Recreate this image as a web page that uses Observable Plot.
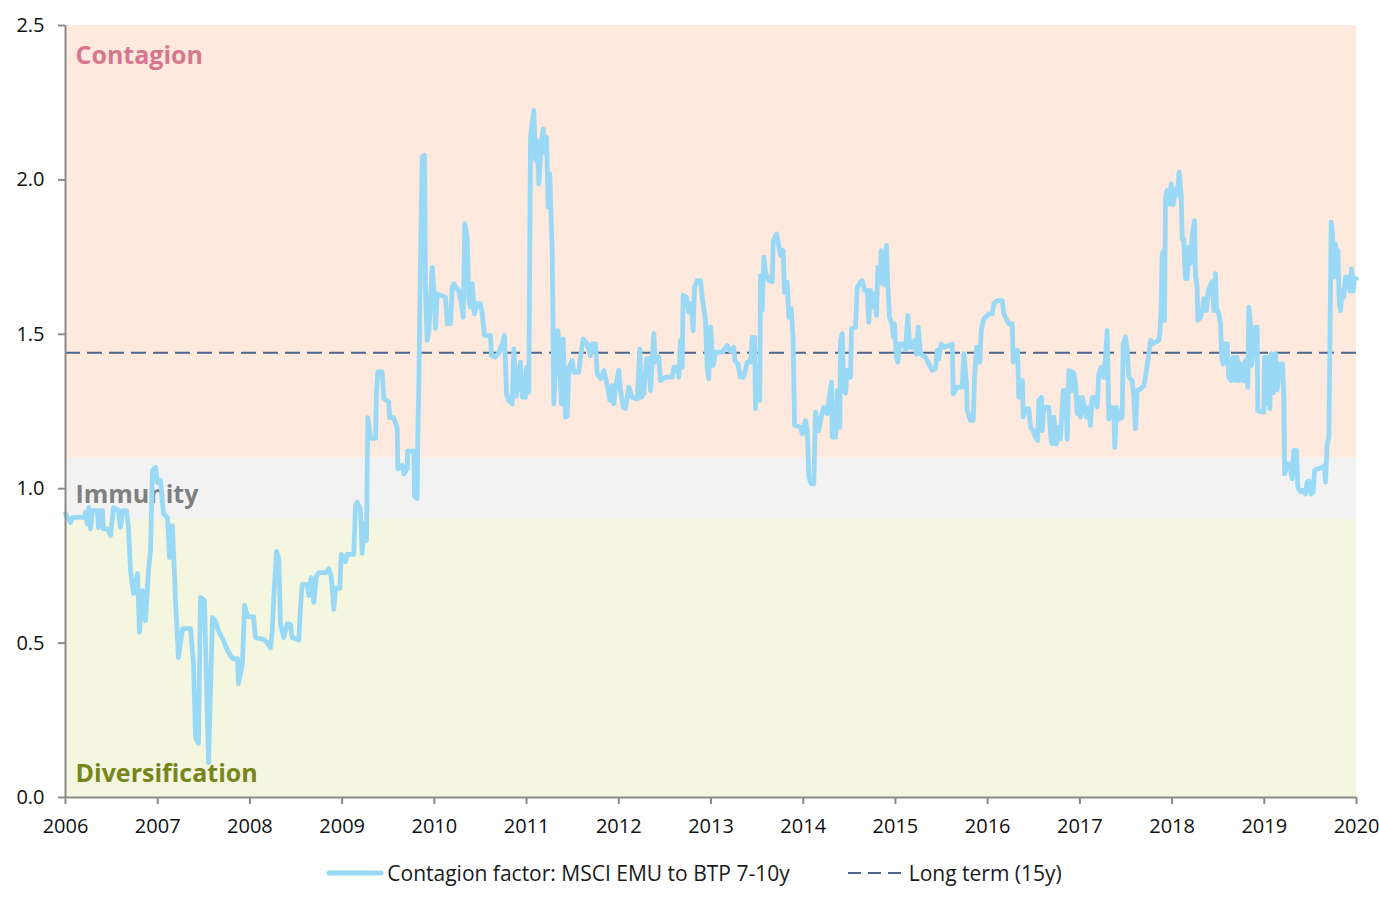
<!DOCTYPE html>
<html>
<head>
<meta charset="utf-8">
<script src="https://cdn.jsdelivr.net/npm/d3@7"></script>
<script src="https://cdn.jsdelivr.net/npm/@observablehq/plot@0.6"></script>
<style>
  html, body { margin: 0; padding: 0; background: #fff; }
  body { width: 1379px; height: 907px; font-family: "Open Sans", Lato, sans-serif; }
  #chart { position: absolute; left: 0; top: 0; }
  #legend { position: absolute; left: 0; top: 859px; width: 1379px; display: flex; justify-content: center; align-items: center; gap: 58px; font-family: "Open Sans", sans-serif; font-size: 21px; color: #1a1a1a; padding-left: 9px; box-sizing: border-box; }
  .item { display: flex; align-items: center; gap: 3px; }
</style>
</head>
<body>
<div id="chart"></div>
<div id="legend"></div>
<script>
// ---- data (decimal year, contagion factor) ----
const years = [
2006.000,2006.054,2006.076,2006.206,2006.217,2006.235,2006.253,2006.271,2006.293,2006.347,
2006.358,2006.380,2006.401,2006.412,2006.455,2006.488,2006.521,2006.575,2006.596,2006.618,
2006.661,2006.683,2006.705,2006.737,2006.781,2006.802,2006.835,2006.868,2006.900,2006.922,
2006.943,2006.976,2006.998,2007.030,2007.063,2007.106,2007.128,2007.160,2007.193,2007.225,
2007.269,2007.356,2007.388,2007.410,2007.442,2007.464,2007.507,2007.551,2007.594,2007.627,
2007.659,2007.713,2007.757,2007.811,2007.865,2007.876,2007.919,2007.941,2007.974,2008.039,
2008.060,2008.150,2008.187,2008.223,2008.241,2008.259,2008.288,2008.313,2008.332,2008.367,
2008.404,2008.440,2008.458,2008.530,2008.548,2008.567,2008.621,2008.638,2008.664,2008.693,
2008.722,2008.747,2008.820,2008.855,2008.881,2008.910,2008.928,2008.975,2008.990,2009.036,
2009.055,2009.126,2009.145,2009.163,2009.199,2009.217,2009.242,2009.264,2009.278,2009.307,
2009.362,2009.373,2009.387,2009.434,2009.452,2009.506,2009.514,2009.560,2009.597,2009.604,
2009.651,2009.669,2009.706,2009.709,2009.777,2009.785,2009.814,2009.820,2009.831,2009.850,
2009.868,2009.893,2009.904,2009.922,2009.940,2009.977,2009.994,2010.012,2010.031,2010.121,
2010.139,2010.175,2010.194,2010.211,2010.265,2010.291,2010.313,2010.330,2010.356,2010.374,
2010.392,2010.410,2010.435,2010.465,2010.500,2010.519,2010.544,2010.609,2010.620,2010.663,
2010.699,2010.736,2010.761,2010.782,2010.807,2010.844,2010.862,2010.888,2010.934,2010.953,
2010.988,2010.999,2011.024,2011.043,2011.078,2011.097,2011.115,2011.133,2011.159,2011.180,
2011.194,2011.216,2011.235,2011.252,2011.278,2011.295,2011.314,2011.339,2011.360,2011.376,
2011.397,2011.422,2011.441,2011.458,2011.495,2011.512,2011.566,2011.585,2011.614,2011.657,
2011.693,2011.712,2011.747,2011.766,2011.802,2011.838,2011.875,2011.903,2011.929,2011.946,
2011.975,2012.000,2012.019,2012.048,2012.073,2012.109,2012.145,2012.200,2012.228,2012.243,
2012.271,2012.301,2012.333,2012.344,2012.380,2012.398,2012.434,2012.452,2012.507,2012.579,
2012.597,2012.637,2012.651,2012.669,2012.688,2012.698,2012.734,2012.759,2012.785,2012.807,
2012.821,2012.850,2012.886,2012.905,2012.940,2012.959,2012.976,2012.995,2013.024,2013.049,
2013.122,2013.176,2013.212,2013.248,2013.258,2013.291,2013.320,2013.356,2013.393,2013.429,
2013.447,2013.472,2013.483,2013.501,2013.529,2013.537,2013.555,2013.573,2013.591,2013.627,
2013.664,2013.675,2013.710,2013.735,2013.754,2013.783,2013.797,2013.826,2013.844,2013.870,
2013.891,2013.906,2013.971,2013.989,2014.025,2014.043,2014.061,2014.087,2014.115,2014.133,
2014.169,2014.195,2014.223,2014.260,2014.288,2014.307,2014.315,2014.350,2014.369,2014.397,
2014.404,2014.423,2014.440,2014.459,2014.477,2014.513,2014.524,2014.567,2014.585,2014.621,
2014.640,2014.665,2014.694,2014.711,2014.730,2014.748,2014.773,2014.795,2014.809,2014.830,
2014.846,2014.867,2014.882,2014.903,2014.917,2014.936,2014.965,2014.976,2014.990,2015.011,
2015.026,2015.047,2015.091,2015.109,2015.134,2015.156,2015.185,2015.207,2015.228,2015.247,
2015.272,2015.326,2015.362,2015.399,2015.435,2015.453,2015.470,2015.496,2015.532,2015.616,
2015.626,2015.670,2015.724,2015.742,2015.771,2015.778,2015.814,2015.843,2015.858,2015.879,
2015.904,2015.915,2015.930,2015.958,2016.013,2016.050,2016.067,2016.104,2016.158,2016.175,
2016.229,2016.266,2016.277,2016.302,2016.324,2016.338,2016.364,2016.378,2016.386,2016.411,
2016.447,2016.465,2016.494,2016.519,2016.544,2016.555,2016.584,2016.592,2016.609,2016.663,
2016.689,2016.700,2016.718,2016.747,2016.772,2016.790,2016.819,2016.844,2016.863,2016.880,
2016.906,2016.917,2016.934,2016.953,2016.971,2016.989,2017.007,2017.026,2017.050,2017.072,
2017.094,2017.115,2017.134,2017.170,2017.188,2017.205,2017.231,2017.260,2017.278,2017.296,
2017.314,2017.340,2017.368,2017.379,2017.397,2017.433,2017.459,2017.470,2017.495,2017.513,
2017.531,2017.568,2017.585,2017.603,2017.622,2017.658,2017.694,2017.723,2017.748,2017.766,
2017.796,2017.821,2017.856,2017.867,2017.882,2017.893,2017.911,2017.918,2017.929,2017.947,
2017.976,2017.991,2018.012,2018.037,2018.056,2018.077,2018.099,2018.110,2018.127,2018.136,
2018.146,2018.164,2018.182,2018.200,2018.218,2018.243,2018.254,2018.272,2018.279,2018.308,
2018.327,2018.344,2018.373,2018.392,2018.417,2018.435,2018.453,2018.471,2018.482,2018.507,
2018.526,2018.537,2018.555,2018.569,2018.598,2018.615,2018.641,2018.663,2018.688,2018.706,
2018.724,2018.742,2018.771,2018.796,2018.821,2018.832,2018.850,2018.861,2018.880,2018.905,
2018.923,2018.929,2018.995,2019.002,2019.024,2019.045,2019.060,2019.075,2019.097,2019.122,
2019.140,2019.169,2019.198,2019.212,2019.220,2019.249,2019.274,2019.303,2019.320,2019.349,
2019.364,2019.393,2019.422,2019.447,2019.466,2019.483,2019.509,2019.531,2019.545,2019.574,
2019.628,2019.653,2019.664,2019.682,2019.700,2019.711,2019.726,2019.740,2019.754,2019.773,
2019.784,2019.798,2019.813,2019.827,2019.845,2019.863,2019.881,2019.917,2019.928,2019.946,
2019.964,2019.978,2020.000
];
const values = [
0.919,0.89,0.907,0.907,0.924,0.887,0.939,0.87,0.929,0.929,
0.873,0.929,0.929,0.87,0.87,0.848,0.939,0.929,0.875,0.929,
0.929,0.875,0.735,0.66,0.725,0.535,0.67,0.573,0.735,0.80,
1.059,1.069,1.02,1.027,0.919,0.907,0.777,0.88,0.638,0.453,
0.547,0.547,0.434,0.194,0.175,0.648,0.638,0.113,0.583,0.57,
0.54,0.508,0.476,0.45,0.45,0.369,0.434,0.622,0.586,0.586,
0.518,0.512,0.502,0.484,0.535,0.649,0.797,0.775,0.558,0.518,
0.563,0.56,0.518,0.51,0.614,0.69,0.69,0.654,0.712,0.632,
0.717,0.728,0.728,0.741,0.717,0.609,0.677,0.677,0.787,0.764,
0.787,0.787,0.946,0.956,0.934,0.791,0.888,0.832,1.23,1.163,
1.163,1.321,1.378,1.378,1.292,1.281,1.23,1.23,1.196,1.065,
1.076,1.048,1.065,1.122,1.122,0.975,0.968,1.163,1.32,1.753,
2.074,2.08,1.642,1.48,1.512,1.717,1.642,1.519,1.631,1.62,
1.535,1.535,1.653,1.664,1.64,1.604,1.555,1.858,1.814,1.609,
1.588,1.664,1.566,1.599,1.599,1.566,1.496,1.496,1.431,1.426,
1.44,1.469,1.496,1.307,1.286,1.275,1.453,1.30,1.41,1.297,
1.296,1.393,1.312,2.138,2.225,2.063,2.128,1.987,2.117,2.165,
2.09,2.138,1.912,2.02,1.761,1.275,1.393,1.512,1.415,1.275,
1.485,1.232,1.235,1.393,1.415,1.377,1.377,1.426,1.485,1.469,
1.431,1.469,1.469,1.372,1.356,1.383,1.334,1.286,1.334,1.275,
1.345,1.383,1.318,1.264,1.26,1.329,1.296,1.29,1.453,1.296,
1.307,1.421,1.421,1.318,1.502,1.41,1.426,1.35,1.361,1.361,
1.393,1.393,1.361,1.48,1.393,1.626,1.62,1.572,1.60,1.512,
1.653,1.674,1.674,1.62,1.545,1.393,1.356,1.523,1.399,1.442,
1.442,1.464,1.445,1.458,1.415,1.404,1.361,1.361,1.41,1.41,
1.491,1.49,1.259,1.393,1.286,1.69,1.577,1.75,1.701,1.674,
1.67,1.803,1.825,1.788,1.755,1.771,1.636,1.669,1.555,1.583,
1.48,1.205,1.199,1.178,1.221,1.19,1.037,1.016,1.016,1.248,
1.188,1.232,1.264,1.243,1.307,1.345,1.167,1.167,1.318,1.199,
1.48,1.502,1.318,1.31,1.383,1.361,1.518,1.523,1.653,1.669,
1.674,1.642,1.642,1.539,1.642,1.588,1.63,1.561,1.717,1.664,
1.771,1.70,1.66,1.788,1.66,1.555,1.534,1.491,1.534,1.426,
1.41,1.469,1.469,1.45,1.561,1.458,1.458,1.48,1.435,1.523,
1.437,1.426,1.404,1.383,1.39,1.448,1.42,1.469,1.458,1.469,
1.307,1.329,1.329,1.437,1.34,1.253,1.221,1.221,1.361,1.458,
1.458,1.41,1.512,1.55,1.566,1.566,1.599,1.609,1.609,1.566,
1.534,1.534,1.41,1.448,1.448,1.296,1.35,1.35,1.232,1.259,
1.259,1.199,1.188,1.167,1.156,1.286,1.296,1.188,1.264,1.264,
1.156,1.145,1.232,1.145,1.199,1.161,1.318,1.318,1.16,1.383,
1.38,1.318,1.375,1.34,1.243,1.296,1.232,1.296,1.264,1.232,
1.264,1.205,1.296,1.296,1.264,1.372,1.393,1.36,1.426,1.512,
1.226,1.264,1.26,1.134,1.264,1.226,1.232,1.469,1.491,1.45,
1.361,1.35,1.296,1.194,1.318,1.323,1.334,1.383,1.437,1.48,
1.47,1.475,1.48,1.502,1.588,1.761,1.77,1.545,1.944,1.966,
1.922,1.987,1.92,1.971,1.95,2.025,1.95,1.809,1.809,1.728,
1.68,1.68,1.782,1.73,1.82,1.868,1.69,1.653,1.545,1.555,
1.577,1.615,1.577,1.642,1.658,1.67,1.577,1.696,1.582,1.566,
1.534,1.426,1.404,1.469,1.469,1.361,1.35,1.426,1.35,1.426,
1.35,1.404,1.35,1.415,1.329,1.588,1.534,1.399,1.447,1.523,
1.523,1.253,1.248,1.426,1.275,1.426,1.26,1.437,1.31,1.437,
1.32,1.404,1.404,1.296,1.048,1.08,1.08,1.032,1.124,1.124,
1.005,0.99,0.995,0.983,1.021,1.025,0.983,0.99,1.059,1.064,
1.069,1.075,1.021,1.145,1.167,1.448,1.863,1.825,1.685,1.793,
1.72,1.771,1.599,1.577,1.642,1.62,1.685,1.685,1.64,1.712,
1.64,1.68,1.68
];
const longTerm = [1.44];

const bandNames = ["Diversification", "Immunity", "Contagion"];
const bandLow = [0, 0.9, 1.1];
const bandHigh = [0.9, 1.1, 2.5];
const bandFill = ["#f5f6e0", "#f2f2f2", "#fde9dd"];
const labelColor = ["#76861c", "#7f7f7f", "#d9768f"];

const xTicks = d3.range(2006, 2021);
const yTicks = [0, 0.5, 1.0, 1.5, 2.0, 2.5];

const seriesName = "Contagion factor: MSCI EMU to BTP 7-10y";
const longTermName = "Long term (15y)";

const series = years.map((x, i) => ({x, y: values[i]}));
const bands = bandNames.map((name, i) => ({name, lo: bandLow[i], hi: bandHigh[i], fill: bandFill[i], color: labelColor[i]}));

const lineColor = "#9ad9f6";
const dashColor = "#4d6690";
const axisColor = "#8a8a8a";

const chart = Plot.plot({
  width: 1379,
  height: 845,
  marginLeft: 65,
  marginRight: 23,
  marginTop: 25,
  marginBottom: 48,
  style: {fontFamily: "'Open Sans', Lato, sans-serif", fontSize: "20px", color: "#111", background: "transparent"},
  x: {domain: [2006, 2020], ticks: xTicks, tickFormat: d => String(d)},
  y: {domain: [0, 2.5], ticks: yTicks, tickFormat: d3.format(".1f")},
  marks: [
    Plot.rectY(bands, {x1: 2006, x2: 2020, y1: "lo", y2: "hi", fill: "fill"}),
    Plot.text(bands, {
      x: 2006, y: d => d.name === "Contagion" ? 2.4 : d.name === "Immunity" ? 0.98 : 0.077,
      text: "name", fill: "color",
      dx: 10, textAnchor: "start", fontWeight: "bold", fontSize: 25
    }),
    Plot.ruleY(longTerm, {stroke: dashColor, strokeWidth: 2, strokeDasharray: "15,7"}),
    Plot.line(series, {x: "x", y: "y", stroke: lineColor, strokeWidth: 4.8, strokeLinejoin: "round", strokeLinecap: "round"}),
    Plot.ruleX([2006], {stroke: axisColor, strokeWidth: 2}),
    Plot.ruleY([0], {stroke: axisColor, strokeWidth: 2}),
    Plot.axisX({ticks: xTicks, tickFormat: d => String(d), label: null, tickSize: 7, tickPadding: 14, stroke: axisColor, strokeWidth: 2, fontSize: 20, fill: "#111"}),
    Plot.axisY({ticks: yTicks, tickFormat: d3.format(".1f"), label: null, tickSize: 7, tickPadding: 14, stroke: axisColor, strokeWidth: 2, fontSize: 20, fill: "#111"})
  ]
});

document.getElementById("chart").appendChild(chart);

const legend = document.getElementById("legend");
legend.innerHTML = `
  <div class="item"><svg width="58" height="10"><line x1="3" y1="5" x2="55" y2="5" stroke="${lineColor}" stroke-width="5" stroke-linecap="round"/></svg><span>${seriesName}</span></div>
  <div class="item"><svg width="58" height="10"><line x1="0" y1="5" x2="58" y2="5" stroke="${dashColor}" stroke-width="2" stroke-dasharray="13,7"/></svg><span>${longTermName}</span></div>
`;
</script>
</body>
</html>
